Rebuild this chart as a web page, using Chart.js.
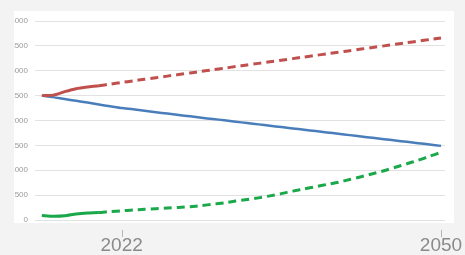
<!DOCTYPE html>
<html>
<head>
<meta charset="utf-8">
<script src="https://cdn.jsdelivr.net/npm/chart.js@4.4.1/dist/chart.umd.min.js"></script>
<style>
  html, body { margin: 0; padding: 0; background: #f3f3f3; }
  #wrap { position: relative; width: 465px; height: 255px; overflow: hidden; }
  .card { position: absolute; left: 14px; top: 11px; width: 440px; height: 212px; background: #fff; }
  #chart { position: absolute; left: 0; top: 0; clip-path: inset(0 0 0 14px); }
</style>
</head>
<body>
<div id="wrap">
  <div class="card"></div>
  <canvas id="chart" width="465" height="255"></canvas>
</div>
<script>
// years on the x axis
const years = [];
for (let y = 2015; y <= 2050; y++) years.push(y);

const blueVals = [2500, 2470, 2430, 2395, 2360, 2320, 2285, 2250, 2225, 2195, 2165, 2140,
  2110, 2085, 2055, 2030, 2005, 1975, 1950, 1922, 1895, 1868, 1841, 1814, 1787, 1760,
  1733, 1706, 1679, 1652, 1625, 1598, 1571, 1544, 1517, 1490];

const redVals = [2500, 2510, 2580, 2640, 2675, 2700, 2732, 2764, 2796, 2828, 2860, 2892,
  2924, 2956, 2988, 3020, 3052, 3084, 3116, 3148, 3180, 3212, 3244, 3276, 3308, 3340,
  3372, 3404, 3436, 3468, 3500, 3532, 3564, 3596, 3628, 3660];

const greenVals = [90, 75, 85, 120, 140, 150, 170, 185, 200, 215, 228, 240, 252, 268, 290,
  318, 345, 380, 410, 445, 485, 530, 580, 625, 670, 715, 760, 815, 870, 930, 990, 1060,
  1130, 1200, 1280, 1360];

const xTickYears = [2022, 2050];
const dashFrom = 2020; // projection starts here

function pts(vals) {
  return vals.map((v, i) => ({ x: years[i], y: v }));
}

const dashAfter = {
  borderDash: (ctx) => (ctx.p0.parsed.x >= dashFrom ? [8, 5] : undefined),
};

// small tick marks below the white card
const tickMarks = {
  id: "tickMarks",
  afterDraw(chart) {
    const c = chart.ctx;
    const xs = chart.scales.x;
    c.save();
    c.strokeStyle = "#b5b5b5";
    c.lineWidth = 1;
    xTickYears.forEach((yr) => {
      const px = Math.round(xs.getPixelForValue(yr)) + 0.5;
      c.beginPath();
      c.moveTo(px, 230);
      c.lineTo(px, 237);
      c.stroke();
    });
    c.restore();
  },
};

const ctx = document.getElementById("chart").getContext("2d");
new Chart(ctx, {
  type: "line",
  data: {
    datasets: [
      {
        data: pts(redVals),
        borderColor: "#c0504d",
        borderWidth: 3,
        segment: dashAfter,
      },
      {
        data: pts(blueVals),
        borderColor: "#4a7ebb",
        borderWidth: 2.5,
      },
      {
        data: pts(greenVals),
        borderColor: "#1aa84a",
        borderWidth: 3,
        segment: dashAfter,
      },
    ],
  },
  options: {
    responsive: false,
    animation: false,
    layout: { padding: { top: 21, right: 20, left: 0, bottom: 0 } },
    elements: {
      point: { radius: 0 },
      line: { tension: 0.2, borderCapStyle: "butt" },
    },
    plugins: { legend: { display: false }, tooltip: { enabled: false } },
    scales: {
      x: {
        type: "linear",
        min: 2014.4,
        max: 2050.35,
        afterBuildTicks: (s) => { s.ticks = xTickYears.map((v) => ({ value: v })); },
        afterFit: (s) => {
          s.height = 35;
          s.paddingLeft = 0;
          s.paddingRight = 0;
        },
        grid: { display: false },
        border: { display: false },
        ticks: {
          padding: 6,
          color: "#8a8a8a",
          font: { family: "Liberation Sans", size: 19 },
          callback: (v) => String(v),
        },
      },
      y: {
        min: 0,
        max: 4000,
        afterFit: (s) => {
          s.width = 35;
          s.paddingTop = 0;
          s.paddingBottom = 0;
        },
        grid: { color: "#e2e2e2", drawTicks: false },
        border: { display: false },
        ticks: {
          stepSize: 500,
          padding: 7,
          color: "#9a9a9a",
          font: { family: "Liberation Sans", size: 8 },
          callback: (v) => String(v),
        },
      },
    },
  },
  plugins: [tickMarks],
});
</script>
</body>
</html>
